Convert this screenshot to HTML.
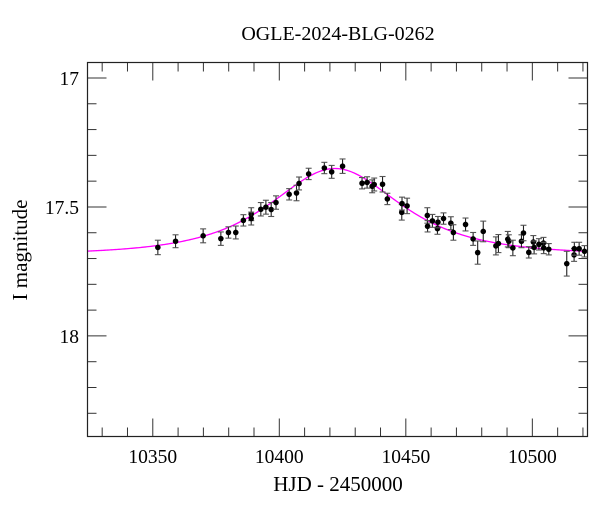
<!DOCTYPE html>
<html><head><meta charset="utf-8"><style>
html,body{margin:0;padding:0;background:#fff;}
svg text{font-family:"Liberation Serif",serif;fill:#000;}
</style></head><body>
<svg id="chart" width="600" height="512" viewBox="0 0 600 512" xmlns="http://www.w3.org/2000/svg">
<text x="338" y="40" font-size="20" text-anchor="middle">OGLE-2024-BLG-0262</text>
<text x="338" y="491" font-size="21" text-anchor="middle">HJD - 2450000</text>
<text x="0" y="0" font-size="21" text-anchor="middle" transform="translate(27,250) rotate(-90)">I magnitude</text>
<g id="ticks"></g>
<g id="model"></g>
<g id="points"></g>
<rect x="87.5" y="62.5" width="500" height="374" fill="none" stroke="#222" stroke-width="1.2"/>
</svg>
<script>
const days = [10352.0,10359.0,10369.9,10376.9,10379.9,10382.8,10385.8,10388.9,10388.9,10392.7,10394.7,10396.8,10398.7,10403.9,10406.8,10407.8,10411.6,10417.8,10420.7,10425.0,10432.7,10434.7,10436.7,10437.5,10440.8,10442.7,10448.4,10448.5,10450.5,10458.5,10458.6,10460.5,10462.5,10462.7,10464.9,10467.8,10468.8,10473.6,10476.6,10478.4,10480.6,10485.6,10486.6,10490.3,10490.7,10492.3,10495.7,10496.5,10498.6,10500.4,10500.7,10502.6,10504.4,10504.5,10506.5,10513.6,10516.5,10516.6,10518.5,10520.6];
const mags = [17.657,17.633,17.612,17.623,17.599,17.599,17.552,17.528,17.545,17.509,17.501,17.510,17.483,17.451,17.446,17.409,17.372,17.349,17.364,17.342,17.408,17.405,17.420,17.413,17.412,17.469,17.521,17.487,17.496,17.533,17.575,17.554,17.584,17.559,17.545,17.563,17.599,17.568,17.624,17.677,17.595,17.651,17.642,17.625,17.633,17.659,17.633,17.601,17.676,17.636,17.657,17.645,17.640,17.659,17.664,17.720,17.686,17.662,17.662,17.672];
const errs = [0.028,0.025,0.027,0.026,0.022,0.025,0.022,0.025,0.025,0.026,0.027,0.027,0.026,0.022,0.030,0.025,0.022,0.022,0.025,0.028,0.022,0.022,0.025,0.025,0.030,0.022,0.030,0.025,0.030,0.030,0.022,0.025,0.022,0.022,0.022,0.025,0.030,0.025,0.025,0.045,0.040,0.035,0.035,0.030,0.025,0.030,0.025,0.030,0.022,0.025,0.025,0.022,0.022,0.022,0.022,0.048,0.025,0.025,0.025,0.022];
const xTickLabels = [10350,10400,10450,10500];
const yTickLabels = [17,17.5,18];
const modelParams = [10422, 31.4, 0.975, 17.685]; // t0, tE, u0, baseline

const X0=87.5,X1=587.5,Y0=62.5,Y1=436.5;
const DMIN=10324.2,DMAX=10521.8,MTOP=16.94,MBOT=18.39;
const xs=d=>X0+(d-DMIN)/(DMAX-DMIN)*(X1-X0);
const ys=m=>Y0+(m-MTOP)/(MBOT-MTOP)*(Y1-Y0);
const NS="http://www.w3.org/2000/svg";
function mk(tag,attrs,parent){const e=document.createElementNS(NS,tag);for(const k in attrs)e.setAttribute(k,attrs[k]);parent.appendChild(e);return e;}
const tg=document.getElementById('ticks');
for(let d=10330;d<=10520;d+=10){
  const major=d%50===0,L=major?18:9,x=xs(d);
  const t1=mk('line',{x1:x,y1:Y0,x2:x,y2:Y0+L,stroke:'#333','stroke-width':1},tg);
  
  
  const t2=mk('line',{x1:x,y1:Y1,x2:x,y2:Y1-L,stroke:'#333','stroke-width':1},tg);
  
  
}
xTickLabels.forEach(v=>{
  const t=mk('text',{x:xs(v),y:463,'font-size':19.5,'text-anchor':'middle'},tg);t.textContent=v;
  
  
});
for(let i=0;i<=13;i++){
  const m=17+i*0.1;if(m>MBOT)break;
  const major=Math.abs(m*2-Math.round(m*2))<1e-6,L=major?19:9,y=ys(m);
  const t1=mk('line',{x1:X0,y1:y,x2:X0+L,y2:y,stroke:'#333','stroke-width':1},tg);
  
  
  const t2=mk('line',{x1:X1,y1:y,x2:X1-L,y2:y,stroke:'#333','stroke-width':1},tg);
  
  
}
yTickLabels.forEach(v=>{
  const t=mk('text',{x:79,y:ys(v)+7,'font-size':19.5,'text-anchor':'end'},tg);t.textContent=v;
  
  
});
const [t0,tE,u0,base]=modelParams;
let pts=[];
for(let d=DMIN;d<=DMAX;d+=0.5){
  const tau=(d-t0)/tE,u=Math.sqrt(u0*u0+tau*tau);
  const A=(u*u+2)/(u*Math.sqrt(u*u+4));
  pts.push(xs(d).toFixed(2)+','+ys(base-2.5*Math.log10(A)).toFixed(2));
}
const mp=mk('polyline',{points:pts.join(' '),fill:'none',stroke:'#ff00ff','stroke-width':1.3},document.getElementById('model'));


const pg=document.getElementById('points');
days.forEach((d,i)=>{
  const x=xs(d),y=ys(mags[i]),ya=ys(mags[i]-errs[i]),yb=ys(mags[i]+errs[i]);
  const g=mk('g',{},pg);
  
  
  mk('line',{x1:x,y1:ya,x2:x,y2:yb,stroke:'#222','stroke-width':1.1},g);
  mk('line',{x1:x-3,y1:ya,x2:x+3,y2:ya,stroke:'#555','stroke-width':1.1},g);
  mk('line',{x1:x-3,y1:yb,x2:x+3,y2:yb,stroke:'#555','stroke-width':1.1},g);
  mk('circle',{cx:x,cy:y,r:2.8,fill:'#000'},g);
});
</script>
</body></html>
